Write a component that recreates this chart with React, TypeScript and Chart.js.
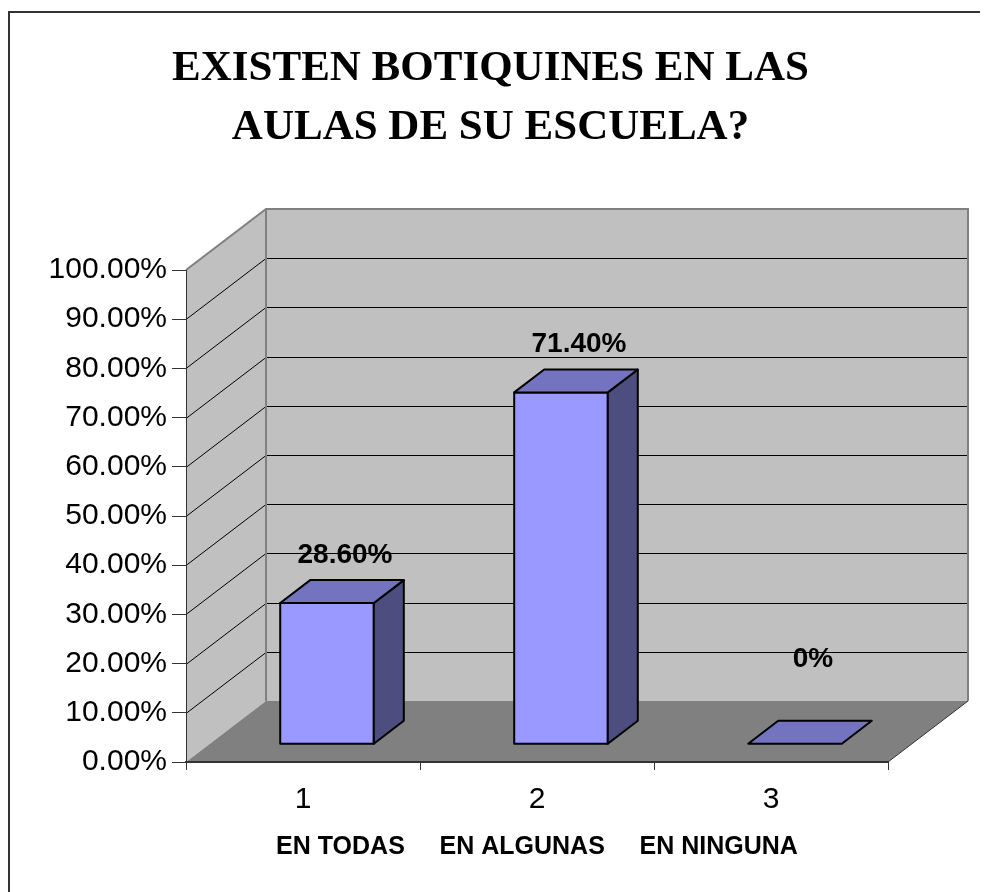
import React, { useEffect, useRef } from "react";
import { Chart, registerables } from "chart.js";

Chart.register(...registerables);

// ---------- data ----------
const categories = ["1", "2", "3"];
const values = [28.6, 71.4, 0];
const valueLabels = ["28.60%", "71.40%", "0%"];
const titleLines = ["EXISTEN BOTIQUINES EN LAS", "AULAS DE SU ESCUELA?"];
const axisTitle = "EN TODAS     EN ALGUNAS     EN NINGUNA";
const yMin = 0;
const yMax = 100;
const yStep = 10;
const labelFloorValue = 20;

// ---------- styling / geometry ----------
const W = 980;
const H = 884;
const DEPTH_X = 80;
const DEPTH_Y = -61;
const BAR_FRONT = 0.3;
const BAR_BACK = 0.675;
const BAR_WIDTH_RATIO = 0.4;
const SANS = '"Liberation Sans", Arial, sans-serif';
const SERIF = '"Liberation Serif", "Times New Roman", serif';

function poly(ctx: CanvasRenderingContext2D, pts: number[][], fill?: string, stroke?: string, lw = 1) {
  ctx.beginPath();
  ctx.moveTo(pts[0][0], pts[0][1]);
  for (let i = 1; i < pts.length; i++) ctx.lineTo(pts[i][0], pts[i][1]);
  ctx.closePath();
  if (fill) {
    ctx.fillStyle = fill;
    ctx.fill();
  }
  if (stroke) {
    ctx.strokeStyle = stroke;
    ctx.lineWidth = lw;
    ctx.stroke();
  }
}

const threeD = {
  id: "threeD",
  afterLayout(chart: any) {
    const t = chart.titleBlock;
    if (t) {
      t.left = 0;
      t.right = 965;
    }
  },
  beforeDraw(chart: any) {
    const ctx: CanvasRenderingContext2D = chart.ctx;
    const { left: L, right: R, top: T, bottom: B } = chart.chartArea;
    const dx = DEPTH_X;
    const dy = DEPTH_Y;
    ctx.save();
    ctx.fillStyle = "#ffffff";
    ctx.fillRect(0, 0, W, H);
    // outer frame
    ctx.fillStyle = "#333333";
    ctx.fillRect(0, 3, 2, H);
    ctx.fillRect(0, 3, W, 2);
    // walls & floor
    poly(ctx, [[L, T], [L + dx, T + dy], [L + dx, B + dy], [L, B]], "#C0C0C0");
    poly(ctx, [[L + dx, T + dy], [R + dx, T + dy], [R + dx, B + dy], [L + dx, B + dy]], "#C0C0C0");
    poly(ctx, [[L, B], [R, B], [R + dx, B + dy], [L + dx, B + dy]], "#808080");
    // gridlines
    const ys = chart.scales.y;
    ctx.strokeStyle = "#000000";
    ctx.lineWidth = 1;
    ys.ticks.forEach((t: any) => {
      if (t.value <= yMin || t.value >= yMax) return;
      const y = Math.round(ys.getPixelForValue(t.value)) + 0.5;
      ctx.beginPath();
      ctx.moveTo(L, y);
      ctx.lineTo(L + dx, y + dy);
      ctx.lineTo(R + dx, y + dy);
      ctx.stroke();
    });
    // wall edges
    ctx.strokeStyle = "#808080";
    ctx.lineWidth = 2;
    ctx.beginPath();
    ctx.moveTo(L, T);
    ctx.lineTo(L + dx, T + dy);
    ctx.lineTo(R + dx, T + dy);
    ctx.lineTo(R + dx, B + dy);
    ctx.moveTo(L + dx, T + dy);
    ctx.lineTo(L + dx, B + dy);
    ctx.stroke();
    // floor right edge
    ctx.strokeStyle = "#333333";
    ctx.lineWidth = 1;
    ctx.beginPath();
    ctx.moveTo(R, B);
    ctx.lineTo(R + dx, B + dy);
    ctx.stroke();
    ctx.restore();
  },
  afterDatasetsDraw(chart: any) {
    const ctx: CanvasRenderingContext2D = chart.ctx;
    const { left: L, right: R } = chart.chartArea;
    const xs = chart.scales.x;
    const ys = chart.scales.y;
    const data: number[] = chart.data.datasets[0].data;
    const catW = (R - L) / data.length;
    const w = catW * BAR_WIDTH_RATIO;
    const ox0 = DEPTH_X * BAR_FRONT;
    const oy0 = DEPTH_Y * BAR_FRONT;
    const dbx = DEPTH_X * (BAR_BACK - BAR_FRONT);
    const dby = DEPTH_Y * (BAR_BACK - BAR_FRONT);
    ctx.save();
    ctx.lineJoin = "round";
    data.forEach((v, i) => {
      const cx = xs.getPixelForValue(i);
      const y0 = ys.getPixelForValue(0);
      const yv = ys.getPixelForValue(v);
      const fl = cx - w / 2 + ox0;
      const fr = cx + w / 2 + ox0;
      const ft = yv + oy0;
      const fb = y0 + oy0;
      if (fb - ft > 0.5) {
        poly(ctx, [[fl, ft], [fr, ft], [fr, fb], [fl, fb]], "#9999FF", "#000000", 2);
        poly(ctx, [[fr, ft], [fr + dbx, ft + dby], [fr + dbx, fb + dby], [fr, fb]], "#4D4D80", "#000000", 2);
      }
      poly(ctx, [[fl, ft], [fr, ft], [fr + dbx, ft + dby], [fl + dbx, ft + dby]], "#7373BF", "#000000", 2);
      // value label
      const lx = cx + DEPTH_X * (BAR_FRONT + BAR_BACK) / 2 + 3;
      const ly = Math.min(ft + dby - 25, ys.getPixelForValue(labelFloorValue) - 4);
      ctx.fillStyle = "#000000";
      ctx.font = `bold 28px ${SANS}`;
      ctx.textAlign = "center";
      ctx.textBaseline = "middle";
      ctx.fillText(valueLabels[i], lx, ly);
    });
    ctx.restore();
  },
};

export default function App() {
  const ref = useRef<HTMLCanvasElement | null>(null);
  useEffect(() => {
    if (!ref.current) return;
    const chart = new Chart(ref.current, {
      type: "bar",
      data: {
        labels: categories,
        datasets: [
          {
            data: values,
            backgroundColor: "rgba(0,0,0,0)",
            borderWidth: 0,
          },
        ],
      },
      options: {
        animation: false,
        responsive: false,
        maintainAspectRatio: false,
        devicePixelRatio: 1,
        layout: { padding: { left: 0, right: 100, top: 0, bottom: 0 } },
        plugins: {
          legend: { display: false },
          tooltip: { enabled: false },
          title: {
            display: true,
            text: titleLines,
            color: "#000000",
            font: { family: SERIF, size: 43, weight: "bold", lineHeight: "59px" },
            padding: { top: 31, bottom: 113 },
          },
        },
        scales: {
          x: {
            type: "category",
            offset: true,
            grid: {
              display: true,
              offset: true,
              drawOnChartArea: false,
              drawTicks: true,
              tickLength: 8,
              color: "#333333",
              lineWidth: 1,
            },
            border: { display: true, color: "#333333", width: 2 },
            ticks: {
              color: "#000000",
              font: { family: SANS, size: 30 },
              padding: 12,
              maxRotation: 0,
            },
            title: {
              display: true,
              text: axisTitle,
              color: "#000000",
              font: { family: SANS, size: 25, weight: "bold" },
              padding: { top: 0, bottom: 30 },
            },
            afterFit: (s: any) => {
              s.height = 130;
            },
          },
          y: {
            min: yMin,
            max: yMax,
            ticks: {
              stepSize: yStep,
              color: "#000000",
              font: { family: SANS, size: 30 },
              padding: 5,
              callback: (v: any) => Number(v).toFixed(2) + "%",
            },
            grid: {
              drawOnChartArea: false,
              tickLength: 14,
              color: "#333333",
            },
            border: { display: true, color: "#333333", width: 1 },
            afterFit: (s: any) => {
              s.width = 178;
            },
          },
        },
      },
      plugins: [threeD],
    } as any);
    return () => chart.destroy();
  }, []);
  return (
    <div style={{ width: W, height: H }}>
      <canvas ref={ref} width={W} height={H} style={{ display: "block" }} />
    </div>
  );
}
